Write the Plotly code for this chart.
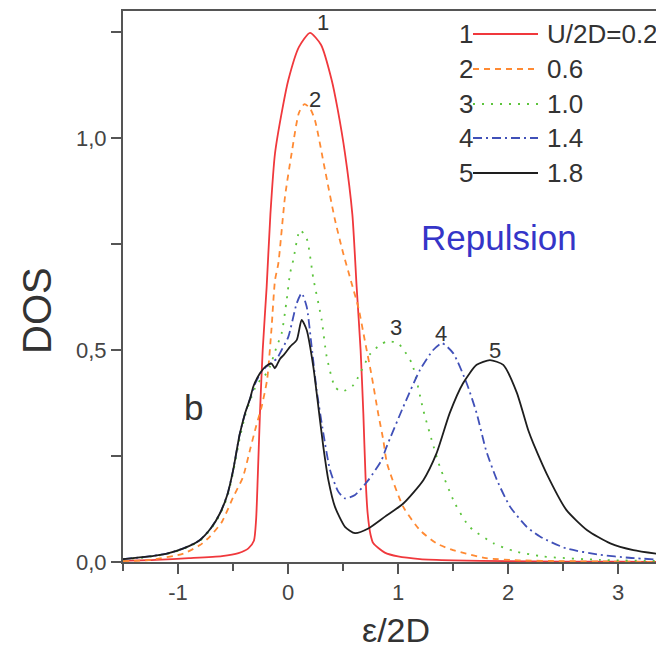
import plotly.graph_objects as go

# ---------------- data ----------------
x_u02 = [-1.5, -1.2, -0.9, -0.6, -0.45, -0.36, -0.31, -0.29, -0.275, -0.255, -0.23, -0.194, -0.16, -0.118, -0.05, 0.003, 0.1, 0.2,
         0.3, 0.397, 0.45, 0.518, 0.585, 0.624, 0.66, 0.685, 0.705, 0.724, 0.75, 0.776, 0.88, 1.0, 1.2, 1.5, 2.0, 2.5, 3.0, 3.42]
y_u02 = [0.003, 0.005, 0.009, 0.014, 0.021, 0.032, 0.05, 0.1, 0.2, 0.35, 0.5, 0.649, 0.82, 0.964, 1.07, 1.137, 1.215, 1.248,
         1.22, 1.137, 1.07, 0.964, 0.82, 0.649, 0.5, 0.35, 0.2, 0.115, 0.065, 0.044, 0.022, 0.013, 0.007, 0.004, 0.002, 0.001, 0.001, 0.0]

x_u06 = [-1.5, -1.25, -0.95, -0.8, -0.71, -0.6, -0.5, -0.41, -0.345, -0.29, -0.24, -0.19, -0.15, -0.118, -0.088, -0.027, 0.033, 0.1,
         0.15, 0.2, 0.245, 0.336, 0.427, 0.5, 0.57, 0.64, 0.7, 0.76, 0.82, 0.866, 0.9, 1.048, 1.2, 1.35, 1.5, 1.62, 1.8, 2.1, 2.5, 3.0, 3.42]
y_u06 = [0.002, 0.005, 0.02, 0.04, 0.06, 0.095, 0.152, 0.2, 0.265, 0.32, 0.366, 0.43, 0.55, 0.665, 0.704, 0.862, 0.964, 1.06,
         1.08, 1.07, 1.042, 0.925, 0.807, 0.73, 0.665, 0.6, 0.52, 0.44, 0.35, 0.288, 0.233, 0.13, 0.075, 0.044, 0.028, 0.02, 0.009, 0.004, 0.002, 0.001, 0.0]

x_u10 = [-1.5, -1.3, -1.1, -0.95, -0.8, -0.7, -0.618, -0.55, -0.5, -0.44, -0.39, -0.345, -0.3, -0.25, -0.21, -0.164, -0.103, -0.058,
         -0.012, 0.018, 0.048, 0.109, 0.17, 0.23, 0.306, 0.352, 0.427, 0.488, 0.594, 0.745, 0.836, 0.9, 1.0, 1.125, 1.23, 1.306, 1.38,
         1.518, 1.65, 1.87, 2.05, 2.32, 2.84, 3.42]
y_u10 = [0.006, 0.011, 0.019, 0.031, 0.05, 0.078, 0.112, 0.155, 0.21, 0.29, 0.345, 0.38, 0.41, 0.43, 0.44, 0.461, 0.508, 0.539,
         0.618, 0.68, 0.712, 0.783, 0.763, 0.669, 0.571, 0.484, 0.413, 0.402, 0.417, 0.49, 0.512, 0.52, 0.516, 0.469, 0.358, 0.288, 0.225,
         0.138, 0.083, 0.044, 0.026, 0.013, 0.005, 0.002]

x_u14 = [-1.5, -1.3, -1.1, -0.95, -0.8, -0.7, -0.618, -0.55, -0.5, -0.44, -0.39, -0.345, -0.3, -0.25, -0.2, -0.15, -0.1, -0.058,
         0.003, 0.079, 0.124, 0.17, 0.215, 0.26, 0.321, 0.382, 0.457, 0.518, 0.609, 0.73, 0.85, 0.897, 1.048, 1.2, 1.32, 1.4, 1.503,
         1.625, 1.715, 1.8, 1.9, 2.02, 2.17, 2.29, 2.53, 2.84, 3.1, 3.42]
y_u14 = [0.007, 0.012, 0.02, 0.032, 0.052, 0.08, 0.115, 0.16, 0.215, 0.3, 0.351, 0.385, 0.42, 0.445, 0.46, 0.47, 0.48, 0.5,
         0.531, 0.61, 0.634, 0.602, 0.508, 0.406, 0.304, 0.217, 0.166, 0.15, 0.158, 0.193, 0.24, 0.272, 0.366, 0.453, 0.5, 0.516, 0.492,
         0.421, 0.351, 0.264, 0.193, 0.13, 0.083, 0.06, 0.032, 0.017, 0.01, 0.005]

x_u18 = [-1.5, -1.3, -1.1, -0.95, -0.8, -0.7, -0.618, -0.55, -0.5, -0.44, -0.39, -0.345, -0.315, -0.255, -0.2, -0.15, -0.12, -0.1,
         -0.07, -0.04, 0.02, 0.08, 0.124, 0.17, 0.23, 0.276, 0.321, 0.367, 0.427, 0.518, 0.609, 0.73, 0.882, 1.048, 1.23, 1.35, 1.47,
         1.59, 1.715, 1.836, 1.957, 2.079, 2.185, 2.23, 2.38, 2.53, 2.72, 2.93, 3.14, 3.42]
y_u18 = [0.007, 0.012, 0.02, 0.032, 0.052, 0.08, 0.115, 0.16, 0.215, 0.3, 0.351, 0.385, 0.414, 0.445, 0.462, 0.468, 0.457, 0.465,
         0.48, 0.488, 0.508, 0.524, 0.571, 0.547, 0.461, 0.366, 0.272, 0.193, 0.13, 0.083, 0.068, 0.079, 0.107, 0.138, 0.193, 0.256, 0.351,
         0.421, 0.465, 0.476, 0.465, 0.4, 0.31, 0.28, 0.193, 0.123, 0.075, 0.044, 0.028, 0.017]

curve_ids = ["1", "2", "3", "4", "5"]
legend_labels = ["U/2D=0.2", "0.6", "1.0", "1.4", "1.8"]
colors = ["#f0383c", "#ff8a33", "#5cc43c", "#4050b8", "#1e1e1e"]
dashes = ["solid", "6px,5px", "2px,7px", "9px,4px,2px,4px", "solid"]

# curve number labels (data coords)
label_x = [0.32, 0.245, 0.98, 1.39, 1.88]
label_y = [1.272, 1.09, 0.552, 0.538, 0.5]

x_ticks = [-1, 0, 1, 2, 3]
x_ticktext = ["-1", "0", "1", "2", "3"]
y_ticks = [0.0, 0.5, 1.0]
y_ticktext = ["0,0", "0,5", "1,0"]

xs = [x_u02, x_u06, x_u10, x_u14, x_u18]
ys = [y_u02, y_u06, y_u10, y_u14, y_u18]

FONT = "Liberation Sans, Arial, sans-serif"
OFF = 8                      # page body margin
W, H = 664 - OFF, 657 - OFF
PLOT_L, PLOT_R, PLOT_T, PLOT_B = 123, 664, 11, 562   # page pixels of the plot area
ML, MR, MT, MB = PLOT_L - OFF, 0, PLOT_T - OFF, (H + OFF) - PLOT_B
PW, PH = PLOT_R - PLOT_L, PLOT_B - PLOT_T
XPX = 110.0                  # pixels per x unit
YPX = 424.0                  # pixels per y unit


def px_to_paper(px, py):
    return (px - PLOT_L) / PW, (PLOT_B - py) / PH


fig = go.Figure()
for i in range(5):
    fig.add_trace(go.Scatter(
        x=xs[i], y=ys[i], mode="lines",
        line=dict(color=colors[i], width=1.8, dash=dashes[i], shape="spline", smoothing=0.6),
        showlegend=False, hoverinfo="skip"))

annotations = []
for i in range(5):
    annotations.append(dict(x=label_x[i], y=label_y[i], xref="x", yref="y", text=curve_ids[i],
                            showarrow=False, font=dict(size=22, color="#333", family=FONT)))

# manual legend
row_y = [34, 69, 104, 138, 173]
shapes = []
for i in range(5):
    nx, ny = px_to_paper(466, row_y[i])
    annotations.append(dict(x=nx, y=ny, xref="paper", yref="paper", text=curve_ids[i], showarrow=False,
                            xanchor="center", yanchor="middle", font=dict(size=26, color="#333", family=FONT)))
    tx, ty = px_to_paper(545, row_y[i])
    annotations.append(dict(x=tx, y=ty, xref="paper", yref="paper", text=legend_labels[i], showarrow=False,
                            xanchor="left", yanchor="middle", font=dict(size=26, color="#333", family=FONT)))
    x0, y0 = px_to_paper(473, row_y[i])
    x1, _ = px_to_paper(538, row_y[i])
    shapes.append(dict(type="line", xref="paper", yref="paper", x0=x0, x1=x1, y0=y0, y1=y0,
                       line=dict(color=colors[i], width=1.8, dash=dashes[i])))

annotations.append(dict(x=1.92, y=0.765, xref="x", yref="y", text="Repulsion", showarrow=False,
                        font=dict(size=35, color="#3535c8", family=FONT)))
annotations.append(dict(x=-0.86, y=0.365, xref="x", yref="y", text="b", showarrow=False,
                        font=dict(size=35, color="#333", family=FONT)))

tx, ty = px_to_paper(37, 310)
annotations.append(dict(x=tx, y=ty, xref="paper", yref="paper", text="DOS", showarrow=False, textangle=-90,
                        xanchor="center", yanchor="middle", font=dict(size=40, color="#333", family=FONT)))
tx, ty = px_to_paper(396, 630)
annotations.append(dict(x=tx, y=ty, xref="paper", yref="paper", text="ε/2D", showarrow=False,
                        xanchor="center", yanchor="middle", font=dict(size=34, color="#333", family=FONT)))

fig.update_layout(
    width=W, height=H,
    margin=dict(l=ML, r=MR, t=MT, b=MB, pad=0),
    plot_bgcolor="white", paper_bgcolor="white",
    showlegend=False,
    annotations=annotations, shapes=shapes,
    font=dict(family=FONT, color="#444"),
)
fig.update_xaxes(range=[-1.5, -1.5 + PW / XPX], tickvals=x_ticks, ticktext=x_ticktext,
                 showgrid=False, zeroline=False, showline=True, linecolor="#555", linewidth=2, mirror=True,
                 ticks="outside", ticklen=10, tickwidth=1.5, tickcolor="#555",
                 tickfont=dict(size=22, color="#444", family=FONT),
                 minor=dict(dtick=0.5, tick0=0, ticks="outside", ticklen=7, tickwidth=1.5, tickcolor="#555"))
fig.update_yaxes(range=[0, PH / YPX], tickvals=y_ticks, ticktext=y_ticktext,
                 showgrid=False, zeroline=False, showline=True, linecolor="#555", linewidth=2,
                 ticks="outside", ticklen=10, tickwidth=1.5, tickcolor="#555",
                 tickfont=dict(size=22, color="#444", family=FONT),
                 minor=dict(dtick=0.25, tick0=0, ticks="outside", ticklen=10, tickwidth=1.5, tickcolor="#555"))

fig.write_html("out.html")
